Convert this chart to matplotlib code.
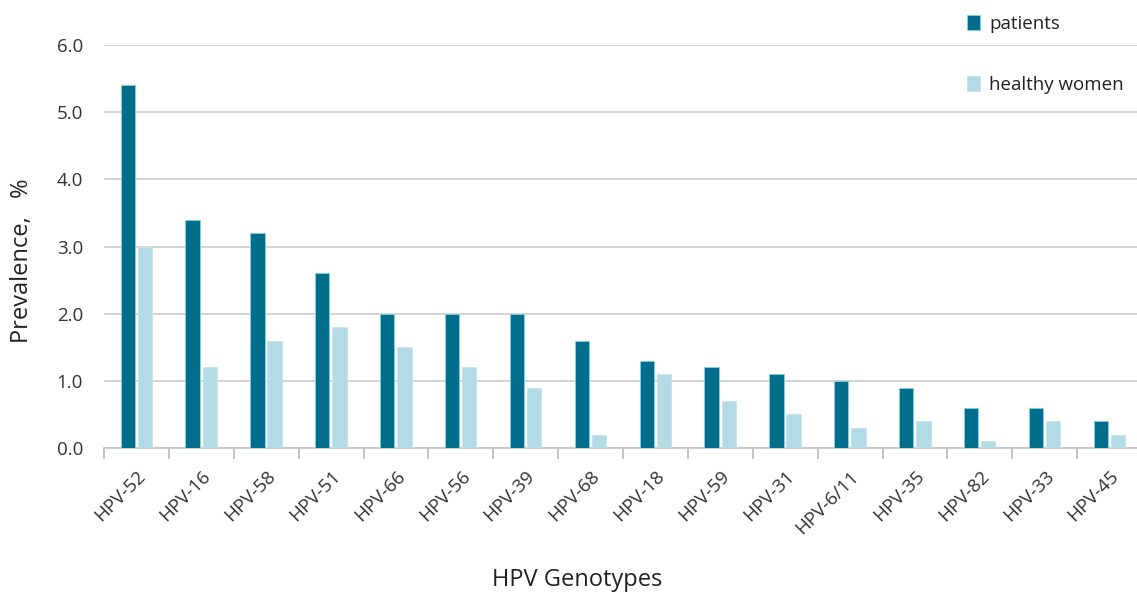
import matplotlib
matplotlib.use("Agg")
import matplotlib.pyplot as plt
import numpy as np

categories = ["HPV-52", "HPV-16", "HPV-58", "HPV-51", "HPV-66", "HPV-56", "HPV-39", "HPV-68",
              "HPV-18", "HPV-59", "HPV-31", "HPV-6/11", "HPV-35", "HPV-82", "HPV-33", "HPV-45"]
patients = [5.4, 3.4, 3.2, 2.6, 2.0, 2.0, 2.0, 1.6, 1.3, 1.2, 1.1, 1.0, 0.9, 0.6, 0.6, 0.4]
healthy = [3.0, 1.2, 1.6, 1.8, 1.5, 1.2, 0.9, 0.2, 1.1, 0.7, 0.5, 0.3, 0.4, 0.1, 0.4, 0.2]
yticks = [0.0, 1.0, 2.0, 3.0, 4.0, 5.0, 6.0]

plt.rcParams['font.family'] = ['Open Sans', 'DejaVu Sans']

fig = plt.figure(figsize=(11.37, 5.92), dpi=100)
ax = fig.add_axes([104/1137, 1-448/592, (1142-104)/1137, (448-45)/592])

x = np.arange(len(categories))
w = 0.22
dark = '#036d8c'
light = '#b2dbe6'
ax.bar(x - 0.135, patients, w, color=dark, edgecolor='#7fd3e6', linewidth=0.6, label='patients', zorder=3)
ax.bar(x + 0.13, healthy, w, color=light, edgecolor='#c6e4ec', linewidth=0.6, label='healthy women', zorder=3)

ax.set_ylim(0, 6)
ax.set_xlim(-0.5, 15.5)
ax.set_yticks(yticks)
ax.set_yticklabels([f"{v:.1f}" for v in yticks], fontsize=13.5, color='#333333')
ax.tick_params(axis='y', length=0, pad=15)
ax.yaxis.grid(True, color='#d0d0d0', linewidth=1.3, zorder=0)
ax.set_axisbelow(True)

ax.set_xticks(x)
ax.set_xticklabels(categories, rotation=45, ha='right', rotation_mode='anchor', fontsize=13.5, color='#333333')
ax.tick_params(axis='x', which='major', length=0, pad=14)
ax.set_xticks(np.arange(-0.5, 16, 1.0), minor=True)
ax.tick_params(axis='x', which='minor', length=8, color='#bfbfbf', width=1.3)

for s in ['top', 'right', 'left']:
    ax.spines[s].set_visible(False)
ax.spines['bottom'].set_color('#c8c8c8')
ax.spines['bottom'].set_linewidth(1.3)

fig.text(0.019, 0.56, 'Prevalence,   %', rotation=90, ha='center', va='center', fontsize=17, color='#222222')
fig.text(0.508, 0.02, 'HPV Genotypes', ha='center', va='center', fontsize=17, color='#222222')

leg = fig.legend(loc='upper left', bbox_to_anchor=(950/1137, 1+2/592), frameon=False,
                 fontsize=13.5, handlelength=0.7, handleheight=0.8, handletextpad=0.5,
                 labelspacing=2.3)
for t in leg.get_texts():
    t.set_color('#222222')

fig.savefig('out.png', dpi=100)
